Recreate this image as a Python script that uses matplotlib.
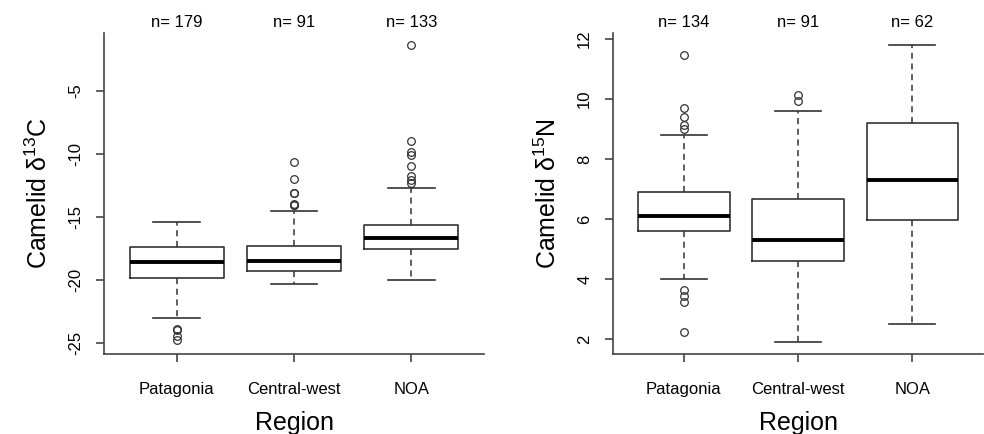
import numpy as np
import matplotlib
matplotlib.use('Agg')
import matplotlib.pyplot as plt

plt.rcParams['font.family'] = ['Liberation Sans', 'DejaVu Sans']
plt.rcParams['mathtext.fontset'] = 'custom'
plt.rcParams['mathtext.rm'] = 'Liberation Sans'
plt.rcParams['mathtext.it'] = 'Liberation Sans:italic'

# regions et effectifs
regions = ['Patagonia', 'Central-west', 'NOA']
n_c = [179, 91, 133]
n_n = [134, 91, 62]

# delta 13C : quartiles, moustaches, valeurs extremes
c_q1 = [-19.84, -19.34, -17.60]
c_med = [-18.63, -18.50, -16.68]
c_q3 = [-17.42, -17.37, -15.66]
c_lo = [-23.02, -20.31, -20.00]
c_hi = [-15.39, -14.52, -12.76]
c_out = [[-23.9, -24.0, -24.5, -24.8],
         [-10.7, -12.05, -13.1, -13.15, -14.0, -14.05, -14.1],
         [-1.37, -9.03, -9.87, -10.08, -11.0, -11.76, -12.1, -12.37]]

# delta 15N
n_q1 = [5.60, 4.61, 5.98]
n_med = [6.10, 5.31, 7.29]
n_q3 = [6.90, 6.65, 9.20]
n_lo = [4.01, 1.91, 2.51]
n_hi = [8.80, 9.60, 11.80]
n_out = [[11.46, 9.70, 9.41, 9.14, 9.00, 3.64, 3.44, 3.23, 2.22],
         [10.12, 9.92],
         []]

gris = '#333333'


def boite(ax, q1, med, q3, lo, hi, out, n, ylab, yticks, ylim):
    stats = []
    for i in range(len(regions)):
        stats.append(dict(med=med[i], q1=q1[i], q3=q3[i], whislo=lo[i],
                          whishi=hi[i], fliers=out[i], label=regions[i]))
    ax.bxp(stats, positions=[1, 2, 3], widths=0.8, capwidths=0.4,
           boxprops=dict(color=gris, lw=1.2),
           medianprops=dict(color='black', lw=2.8, solid_capstyle='butt'),
           whiskerprops=dict(color=gris, lw=1.1, linestyle=(0, (4, 3))),
           capprops=dict(color=gris, lw=1.2),
           flierprops=dict(marker='o', markerfacecolor='none',
                           markeredgecolor=gris, markersize=5.5, mew=0.9))
    ax.set_xlim(0.38, 3.62)
    ax.set_ylim(ylim)
    ax.set_yticks(yticks)
    ax.set_yticklabels([str(t) for t in yticks], rotation=90, va='center')
    ax.spines['top'].set_visible(False)
    ax.spines['right'].set_visible(False)
    for s in ['left', 'bottom']:
        ax.spines[s].set_color('#444444')
        ax.spines[s].set_linewidth(1.2)
    ax.tick_params(axis='both', colors='#444444', length=6, width=1.2,
                   labelsize=12, labelcolor='black')
    ax.tick_params(axis='x', pad=14)
    ax.tick_params(axis='y', pad=9)
    for i in range(len(regions)):
        ax.annotate('n= ' + str(n[i]), xy=(i + 1, 1.0),
                    xycoords=ax.get_xaxis_transform(),
                    xytext=(0, 7.5), textcoords='offset points',
                    ha='center', va='center', fontsize=12)
    ax.set_ylabel(ylab, fontsize=18, labelpad=12)
    ax.set_xlabel('Region', fontsize=18, labelpad=10)


fig = plt.figure(figsize=(9.84, 4.34), dpi=100)
ax1 = fig.add_axes([0.1057, 0.1843, 0.3862, 0.7397])
ax2 = fig.add_axes([0.623, 0.1843, 0.376, 0.7397])

boite(ax1, c_q1, c_med, c_q3, c_lo, c_hi, c_out, n_c,
      'Camelid δ$^{13}$C', [-25, -20, -15, -10, -5], (-25.9, -0.43))
boite(ax2, n_q1, n_med, n_q3, n_lo, n_hi, n_out, n_n,
      'Camelid δ$^{15}$N', [2, 4, 6, 8, 10, 12], (1.5, 12.2))

plt.savefig('out.png', dpi=100)
